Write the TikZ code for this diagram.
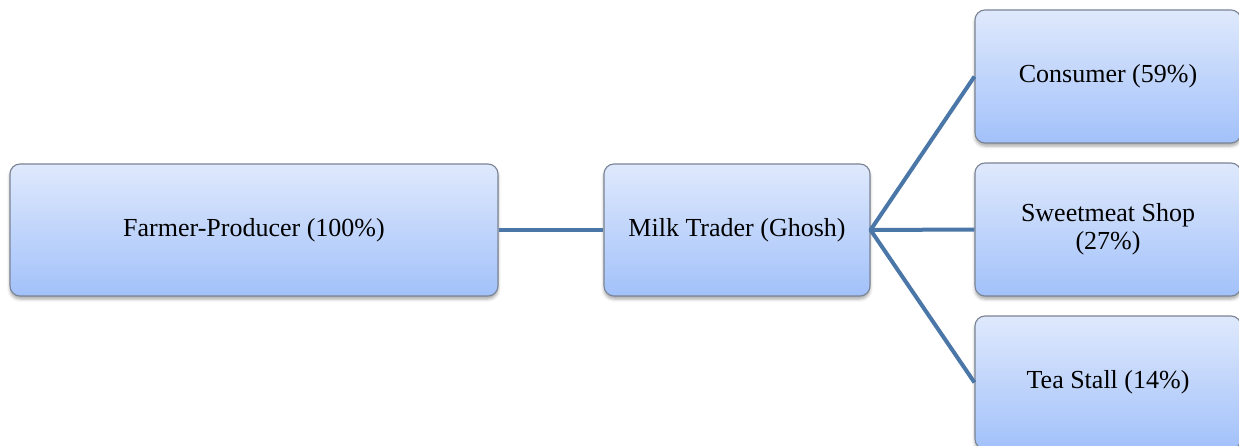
\documentclass[tikz,border=0pt]{standalone}
\usepackage{fontspec}
\setmainfont{Liberation Serif}
\usetikzlibrary{shadows.blur}
\definecolor{boxtop}{HTML}{DFE9FC}
\definecolor{boxbottom}{HTML}{A2C1FA}
\definecolor{boxedge}{HTML}{7A8494}
\definecolor{linkblue}{HTML}{4A76A8}
\tikzset{
  stage/.style={rectangle, rounded corners=10pt, draw=boxedge, line width=1.1pt,
    top color=boxtop, bottom color=boxbottom, align=center,
    font=\fontsize{26}{28}\selectfont, text=black, inner sep=0pt,
    blur shadow={shadow xshift=0pt, shadow yshift=-3pt, shadow blur radius=3pt, shadow opacity=35}},
  link/.style={draw=linkblue, line width=4pt, line join=round}
}
\begin{document}
\begin{tikzpicture}[x=1pt,y=-1pt]
  \useasboundingbox (0,0) rectangle (1239,446);
  \clip (0,0) rectangle (1239,446);
  \node[stage, minimum width=488pt, minimum height=132pt] (farmer) at (254,230) {Farmer-Producer (100\%)};
  \node[stage, minimum width=266pt, minimum height=132pt] (trader) at (737,230) {Milk Trader (Ghosh)};
  \node[stage, minimum width=266pt, minimum height=133pt] (consumer) at (1108,76.5) {Consumer (59\%)};
  \node[stage, minimum width=266pt, minimum height=133pt] (sweet) at (1108,229.5) {Sweetmeat Shop\\(27\%)};
  \node[stage, minimum width=266pt, minimum height=133pt] (tea) at (1108,382.5) {Tea Stall (14\%)};
  \draw[link] (farmer.east) -- (trader.west);
  \draw[link] (consumer.west) -- (trader.east) -- (tea.west);
  \draw[link] (trader.east) -- (sweet.west);
\end{tikzpicture}
\end{document}
